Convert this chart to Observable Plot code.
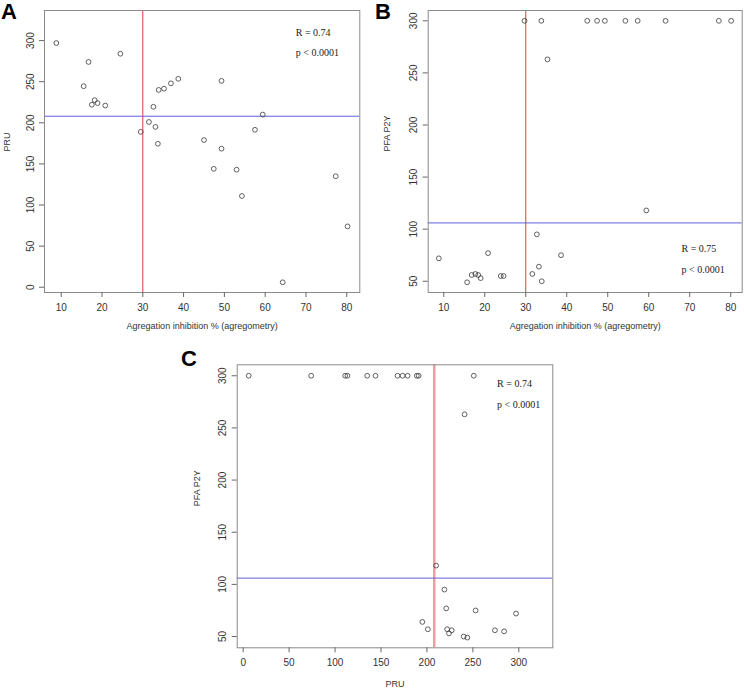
<!DOCTYPE html>
<html><head><meta charset="utf-8">
<script src="https://cdn.jsdelivr.net/npm/d3@7"></script>
<script src="https://cdn.jsdelivr.net/npm/@observablehq/plot@0.6"></script>
<style>
body{margin:0;background:#fff;}
#wrap{position:relative;width:744px;height:690px;overflow:hidden;background:#fff;}
#wrap svg{position:absolute;}
.lab{position:absolute;font:bold 22px "Liberation Sans",Arial,sans-serif;color:#000;line-height:1;}
</style></head><body><div id="wrap"></div>
<script>
// ---- Panel A: aggregation inhibition % vs PRU ----
const aggA = [8.8, 24.5, 16.7, 15.5, 18.2, 17.5, 18.9, 20.8, 33.9, 35.2, 36.9, 38.7, 49.3, 32.6, 31.5, 33.1, 29.5, 33.7, 45.0, 49.3, 59.4, 57.5, 47.4, 53.0, 54.3, 77.3, 80.2, 64.3];
const pruA = [297, 284, 274, 244.5, 227.5, 222, 224, 221, 240, 241.5, 248, 253.5, 251, 219.5, 201, 195, 189, 174.5, 179, 168.5, 210, 191.5, 144, 143, 111, 135, 74, 6];
// ---- Panel B: aggregation inhibition % vs PFA P2Y ----
const aggB = [29.7, 33.8, 45.0, 47.4, 49.3, 54.3, 57.3, 64.1, 77.1, 80.1, 35.3, 59.4, 8.8, 15.7, 16.8, 17.7, 18.4, 19.0, 20.8, 23.9, 24.6, 32.7, 31.6, 33.2, 33.9, 38.6];
const pfaB = [300, 300, 300, 300, 300, 300, 300, 300, 300, 300, 263, 118, 72, 49, 56, 57, 56, 53, 77, 55, 55, 95, 57, 64, 50, 75];
// ---- Panel C: PRU vs PFA P2Y ----
const pruC = [6, 74, 111, 113.5, 135, 144, 168, 173.5, 179, 189, 191, 251, 241, 210, 219, 221, 253, 297, 195, 201, 222, 227, 224, 240, 244, 274, 284];
const pfaC = [300, 300, 300, 300, 300, 300, 300, 300, 300, 300, 300, 300, 263, 118, 95, 77, 75, 72, 64, 57, 57, 56, 53, 50, 49, 56, 55];

// thresholds
const aggCut = 30, pruCut = 208, pfaCut = 106;
// tick labels
const ticksAgg = [10, 20, 30, 40, 50, 60, 70, 80];
const ticksPRU = [0, 50, 100, 150, 200, 250, 300];
const ticksPFA = [50, 100, 150, 200, 250, 300];
// stats
const statsA = ["R = 0.74", "p < 0.0001"];
const statsB = ["R = 0.75", "p < 0.0001"];
const statsC = ["R = 0.74", "p < 0.0001"];
const titleAgg = "Agregation inhibition % (agregometry)";
const titlePRU = "PRU";
const titlePFA = "PFA P2Y";

const zip = (xs, ys) => xs.map((x, i) => ({x, y: ys[i]}));

function panel(o) {
  const svg = Plot.plot({
    width: o.width, height: o.height,
    marginLeft: o.m[0], marginRight: o.m[1], marginTop: o.m[2], marginBottom: o.m[3],
    x: {domain: o.xDomain},
    y: {domain: o.yDomain},
    style: {fontFamily: '"Liberation Sans", Arial, sans-serif', fontSize: "10px", color: "#333", background: "transparent", overflow: "visible"},
    marks: [
      Plot.ruleX([o.vLine], {stroke: o.vColor, strokeWidth: o.vWidth}),
      Plot.ruleY([o.hLine], {stroke: "#5f5fdc", strokeWidth: 1}),
      Plot.frame({stroke: "#8a8a8a", strokeWidth: 1}),
      Plot.dot(o.rows, {x: "x", y: "y", r: 2.4, stroke: "#3a3a3a", strokeWidth: 0.8, fill: "none"}),
      Plot.axisX({ticks: o.xTicks, tickSize: 5, tickPadding: 6, label: null, stroke: "#666", tickFormat: d => String(d)}),
      Plot.axisY({ticks: o.yTicks, tickSize: 5, tickPadding: 6, tickRotate: -90, label: null, stroke: "#666", tickFormat: d => String(d)}),
      Plot.text([o.xTitle], {text: d => d, frameAnchor: "bottom", dy: o.xTitleDy, lineAnchor: "middle", fontSize: 9, fill: "#333"}),
      Plot.text([o.yTitle], {text: d => d, frameAnchor: "left", dx: o.yTitleDx, rotate: -90, lineAnchor: "middle", fontSize: 9, fill: "#333"}),
      Plot.text(o.stats, {x: () => o.statX, y: (d, i) => o.statY[i], text: d => d, textAnchor: "start", fontFamily: '"Liberation Serif", "Times New Roman", serif', fontSize: 10, fill: "#222"})
    ]
  });
  svg.style.left = o.left + "px";
  svg.style.top = o.top + "px";
  return svg;
}

const wrap = document.getElementById("wrap");
wrap.appendChild(panel({
  rows: zip(aggA, pruA), width: 372, height: 340, left: 0, top: 0,
  m: [44, 12.7, 10, 48],
  xDomain: [5.9, 83.2], yDomain: [-6.4, 336.6],
  xTicks: ticksAgg, yTicks: ticksPRU,
  vLine: aggCut, vColor: "#e23b3b", vWidth: 1, hLine: pruCut,
  xTitle: titleAgg, yTitle: titlePRU, xTitleDy: 34, yTitleDx: -37,
  stats: statsA, statX: 67.5, statY: [310, 284.7]
}));
wrap.appendChild(panel({
  rows: zip(aggB, pfaB), width: 372, height: 340, left: 372, top: 0,
  m: [55.7, 2.3, 10, 48],
  xDomain: [6.2, 82.8], yDomain: [39.2, 309.9],
  xTicks: ticksAgg, yTicks: ticksPFA,
  vLine: aggCut, vColor: "#e23b3b", vWidth: 1, hLine: pfaCut,
  xTitle: titleAgg, yTitle: titlePFA, xTitleDy: 34, yTitleDx: -40.7,
  stats: statsB, statX: 68.0, statY: [81.1, 60.9]
}));
wrap.appendChild(panel({
  rows: zip(pruC, pfaC), width: 400, height: 350, left: 170, top: 340,
  m: [66.7, 17.7, 24.3, 42.7],
  xDomain: [-6.5, 337], yDomain: [39.2, 310.5],
  xTicks: ticksPRU, yTicks: ticksPFA,
  vLine: pruCut, vColor: "#ef9e9e", vWidth: 2.5, hLine: pfaCut,
  xTitle: titlePRU, yTitle: titlePFA, xTitleDy: 36.5, yTitleDx: -40,
  stats: statsC, statX: 276.4, statY: [292.6, 272.2]
}));

for (const [t, x, y] of [["A", 1, 1], ["B", 375, 1], ["C", 181, 348]]) {
  const d = document.createElement("div");
  d.className = "lab"; d.textContent = t;
  d.style.left = x + "px"; d.style.top = y + "px";
  wrap.appendChild(d);
}
</script></body></html>
